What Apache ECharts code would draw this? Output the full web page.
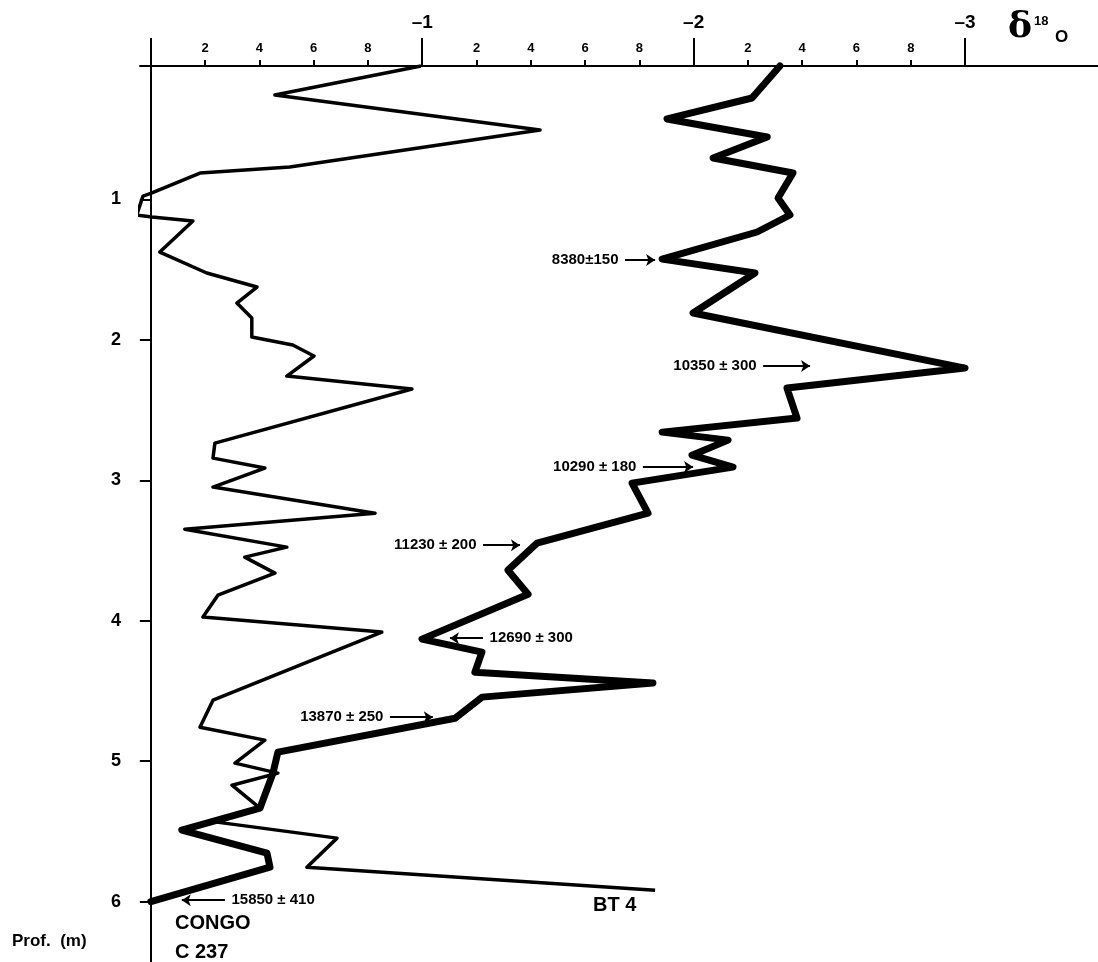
<!DOCTYPE html>
<html><head><meta charset="utf-8">
<script src="https://cdn.jsdelivr.net/npm/echarts@6/dist/echarts.min.js"></script>
<style>html,body{margin:0;padding:0;background:#fff}#c{width:1098px;height:962px}</style>
</head><body><div id="c"></div>
<script>
// Thin curve (BT 4): delta18O values and depths (m)
const thinValue = [-0.995,-0.457,-1.434,-0.512,-0.181,-0.004,0.029,0.052,-0.004,-0.155,-0.033,-0.206,-0.391,-0.317,-0.372,-0.372,-0.523,-0.601,-0.501,-0.962,-0.236,-0.229,-0.420,-0.229,-0.826,-0.125,-0.501,-0.346,-0.457,-0.247,-0.192,-0.851,-0.229,-0.181,-0.420,-0.310,-0.468,-0.299,-0.402,-0.243,-0.686,-0.575,-1.858];
const thinDepth = [0.05,0.256,0.506,0.769,0.812,0.954,0.976,1.111,1.125,1.154,1.375,1.524,1.624,1.738,1.845,1.980,2.037,2.115,2.258,2.350,2.735,2.842,2.913,3.048,3.234,3.348,3.476,3.547,3.661,3.818,3.974,4.081,4.566,4.758,4.850,5.014,5.085,5.171,5.335,5.434,5.548,5.755,5.919];
// Thick curve (CONGO C 237)
const thickValue = [-2.318,-2.215,-1.902,-2.271,-2.072,-2.366,-2.311,-2.355,-2.234,-1.884,-2.226,-1.998,-3.000,-2.344,-2.381,-1.884,-2.127,-1.994,-2.145,-1.773,-1.832,-1.423,-1.316,-1.390,-0.999,-1.220,-1.194,-1.850,-1.220,-1.121,-0.468,-0.450,-0.402,-0.114,-0.428,-0.439,0.0];
const thickDepth = [0.05,0.278,0.427,0.556,0.705,0.812,0.990,1.111,1.232,1.425,1.524,1.809,2.201,2.343,2.557,2.657,2.714,2.821,2.906,3.020,3.234,3.447,3.640,3.811,4.131,4.224,4.366,4.444,4.544,4.694,4.936,5.085,5.335,5.491,5.655,5.755,6.0];
// Axis ticks
const majorTickValues = [0,-1,-2,-3];
const majorLabelValues = [-1,-2,-3];
const minorTickValues = [-0.2,-0.4,-0.6,-0.8,-1.2,-1.4,-1.6,-1.8,-2.2,-2.4,-2.6,-2.8];
const depthTicks = [1,2,3,4,5,6];
// Radiocarbon date annotations
const annoText = ['8380±150','10350 ± 300','10290 ± 180','11230 ± 200','12690 ± 300','13870 ± 250','15850 ± 410'];
const annoDepth = [1.432,2.187,2.906,3.462,4.124,4.687,5.990];
const annoFrom = [-1.747,-2.256,-1.813,-1.224,-1.224,-0.881,-0.273];
const annoTo = [-1.858,-2.429,-1.998,-1.360,-1.102,-1.039,-0.114];

const FONT = '"Liberation Sans", Arial, Helvetica, sans-serif';
const chart = echarts.init(document.getElementById('c'), null, {renderer:'canvas'});
const XMIN = -3.49, XMAX = 0.04;
const blk = '#000';

function labelSeries(side){
  const idx = annoText.map((t,i)=>i).filter(i => side === 'left' ? annoTo[i] < annoFrom[i] : annoTo[i] >= annoFrom[i]);
  return {type:'scatter', symbol:'circle', symbolSize:1, silent:true,
    itemStyle:{color:'rgba(0,0,0,0)', opacity:1},
    data: idx.map(i => ({value:[annoFrom[i], annoDepth[i]], name:annoText[i]})),
    label:{show:true, position:side, formatter:p=>p.name, fontSize:15, fontWeight:'bold', color:'#000', opacity:1, fontFamily:FONT, distance:6},
    emphasis:{disabled:true}, z:6};
}

const option = {
  animation:false,
  backgroundColor:'#fff',
  grid:{left:140, right:0, top:66, bottom:0, containLabel:false},
  xAxis:[
    {type:'value', position:'top', inverse:true, min:XMIN, max:XMAX,
     axisLine:{onZero:false, lineStyle:{color:blk, width:2}},
     splitLine:{show:false},
     axisTick:{customValues:majorTickValues, length:28, lineStyle:{color:blk, width:2}},
     axisLabel:{customValues:majorLabelValues, formatter:v=>'–'+Math.abs(v), margin:34, fontSize:19, fontWeight:'bold', color:blk, fontFamily:FONT}},
    {type:'value', position:'top', inverse:true, min:XMIN, max:XMAX,
     axisLine:{show:false, onZero:false},
     splitLine:{show:false},
     axisTick:{customValues:minorTickValues, length:6, lineStyle:{color:blk, width:2}},
     axisLabel:{customValues:minorTickValues, formatter:v=>String(Math.round(Math.abs(v)*10)%10), margin:11, fontSize:13, fontWeight:'bold', color:blk, fontFamily:FONT}}
  ],
  yAxis:{type:'value', inverse:true, min:0.05, max:6.43,
    axisLine:{onZero:true, lineStyle:{color:blk, width:2}},
    splitLine:{show:false},
    axisTick:{customValues:depthTicks, length:11, lineStyle:{color:blk, width:2}},
    axisLabel:{customValues:depthTicks, margin:19, fontSize:18, fontWeight:'bold', color:blk, fontFamily:FONT}},
  series:[
    {type:'line', name:'BT 4', data:thinValue.map((v,i)=>[v,thinDepth[i]]), symbol:'none', silent:true, clip:false,
     lineStyle:{color:blk, width:3.5, join:'round'}, z:3},
    {type:'line', name:'CONGO C 237', data:thickValue.map((v,i)=>[v,thickDepth[i]]), symbol:'none', silent:true, clip:false,
     lineStyle:{color:blk, width:7, join:'round', cap:'round'}, z:4},
    {type:'lines', coordinateSystem:'cartesian2d', symbol:['none','arrow'], symbolSize:[0,9], silent:true,
     lineStyle:{color:blk, width:2, opacity:1, curveness:0},
     data:annoText.map((t,i)=>({coords:[[annoFrom[i],annoDepth[i]],[annoTo[i],annoDepth[i]]]})), z:5},
    labelSeries('left'),
    labelSeries('right')
  ],
  graphic:[
    {type:'text', left:12, top:933, style:{text:'Prof.  (m)', font:'bold 17px '+FONT, fill:blk}},
    {type:'text', left:175, top:913, style:{text:'CONGO', font:'bold 20px '+FONT, fill:blk}},
    {type:'text', left:175, top:942, style:{text:'C 237', font:'bold 20px '+FONT, fill:blk}},
    {type:'text', left:593, top:895, style:{text:'BT 4', font:'bold 20px '+FONT, fill:blk}},
    {type:'text', left:1008, top:10, style:{text:'δ', font:'bold 36px "DejaVu Serif", serif', fill:blk}},
    {type:'text', left:1034, top:15, style:{text:'18', font:'bold 13px '+FONT, fill:blk}},
    {type:'text', left:1055, top:29, style:{text:'O', font:'bold 17px '+FONT, fill:blk}}
  ]
};
chart.setOption(option);
</script></body></html>
